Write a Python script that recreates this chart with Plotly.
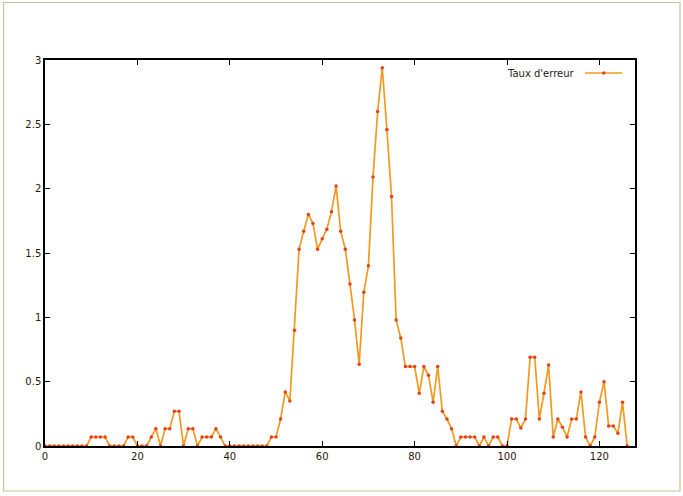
import plotly.graph_objects as go

x_values = list(range(0, 127))
taux_erreur = [
    0, 0, 0, 0, 0, 0, 0, 0, 0, 0,                      # 0-9
    0.07, 0.07, 0.07, 0.07, 0, 0, 0, 0, 0.07, 0.07,    # 10-19
    0, 0, 0, 0.07, 0.135, 0, 0.135, 0.135, 0.27, 0.27, # 20-29
    0, 0.135, 0.135, 0, 0.07, 0.07, 0.07, 0.135, 0.07, 0,  # 30-39
    0, 0, 0, 0, 0, 0, 0, 0, 0, 0.07,                   # 40-49
    0.07, 0.21, 0.42, 0.35, 0.90, 1.53, 1.67, 1.80, 1.73, 1.53,  # 50-59
    1.61, 1.685, 1.82, 2.02, 1.67, 1.53, 1.26, 0.98, 0.635, 1.195,  # 60-69
    1.40, 2.09, 2.60, 2.94, 2.46, 1.94, 0.98, 0.84, 0.617, 0.617,  # 70-79
    0.617, 0.41, 0.617, 0.55, 0.34, 0.617, 0.27, 0.21, 0.135, 0,  # 80-89
    0.07, 0.07, 0.07, 0.07, 0, 0.07, 0, 0.07, 0.07, 0,  # 90-99
    0, 0.21, 0.21, 0.14, 0.21, 0.69, 0.69, 0.21, 0.41, 0.63,  # 100-109
    0.07, 0.21, 0.145, 0.07, 0.21, 0.21, 0.42, 0.07, 0, 0.07,  # 110-119
    0.34, 0.50, 0.155, 0.155, 0.10, 0.34, 0,           # 120-126
]
x_ticks = [0, 20, 40, 60, 80, 100, 120]
y_ticks = [0, 0.5, 1, 1.5, 2, 2.5, 3]
y_tick_labels = ["0", "0.5", "1", "1.5", "2", "2.5", "3"]
series_name = "Taux d'erreur"

LINE = "#f29a1f"
MARK = "#e4401a"

fig = go.Figure()
fig.add_trace(go.Scatter(
    x=x_values, y=taux_erreur, mode="lines+markers", name=series_name,
    line=dict(color=LINE, width=1.7),
    marker=dict(color=MARK, size=3.5, symbol="circle"),
    showlegend=False,
))

W, H = 683, 496
L, R, T, B = 45, 48, 60, 50
pw, ph = W - L - R, H - T - B

def px(xp):
    return (xp - L) / pw

def py(yp):
    return (H - B - yp) / ph

axis_common = dict(showgrid=False, zeroline=False, showline=True, mirror="ticks",
                   linecolor="black", linewidth=1.5, ticks="inside", ticklen=5,
                   tickcolor="black", tickwidth=1.2,
                   tickfont=dict(family="DejaVu Sans", size=10, color="#2a1a0a"))

fig.update_layout(
    width=W, height=H,
    margin=dict(l=L, r=R, t=T, b=B),
    paper_bgcolor="white", plot_bgcolor="white",
    xaxis=dict(range=[0, 127.7], tickvals=x_ticks, **axis_common),
    yaxis=dict(range=[0, 3], tickvals=y_ticks, ticktext=y_tick_labels, **axis_common),
    font=dict(family="DejaVu Sans", size=10, color="#2a1a0a"),
)

# legend (gnuplot style: text left of sample)
fig.add_annotation(xref="paper", yref="paper", x=px(577), y=py(73), text=series_name,
                   showarrow=False, xanchor="right", yanchor="middle",
                   font=dict(family="DejaVu Sans", size=10, color="#222"))
fig.add_shape(type="line", xref="paper", yref="paper", x0=px(585), x1=px(622),
              y0=py(73), y1=py(73), line=dict(color=LINE, width=1.6))
fig.add_shape(type="circle", xref="paper", yref="paper", x0=px(602), x1=px(605.5),
              y0=py(71.3), y1=py(74.7), fillcolor=MARK, line=dict(color=MARK, width=0))

# outer frame of the figure
fig.add_shape(type="rect", xref="paper", yref="paper", x0=px(3.5), x1=px(680),
              y0=py(491), y1=py(2.5), line=dict(color="#cdbf9a", width=1.2))

fig.write_html("out.html", config={"displayModeBar": False},
               post_script="document.body.style.margin='0';document.body.style.overflow='hidden';")
